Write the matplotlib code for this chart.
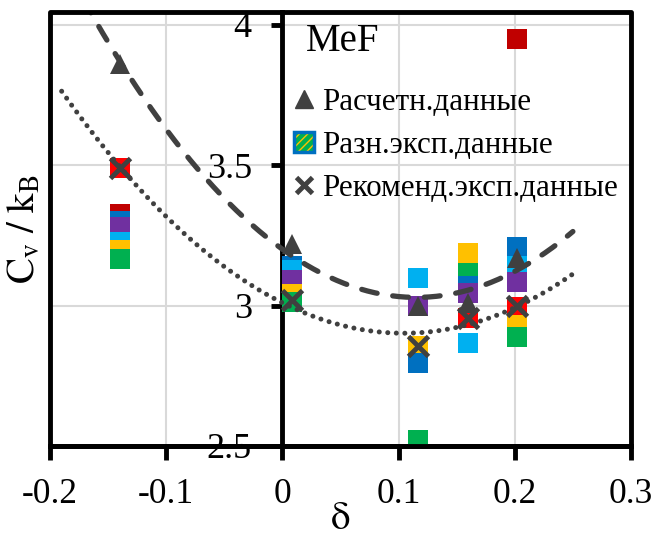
import numpy as np
import matplotlib
matplotlib.use('Agg')
from matplotlib import pyplot as plt
from matplotlib.patches import Patch, Rectangle
from matplotlib.lines import Line2D
from matplotlib.legend_handler import HandlerTuple

FONT = 'Liberation Serif'
plt.rcParams['font.family'] = 'serif'
plt.rcParams['font.serif'] = [FONT, 'DejaVu Serif']
plt.rcParams['mathtext.fontset'] = 'stix'

#%%# data #%%#
delta = [-0.14, 0.008, 0.117, 0.16, 0.202]

# calculated values (triangles) and recommended experimental values (crosses)
calc = [3.86, 3.22, 3.00, 3.01, 3.17]
recom = [3.49, 3.02, 2.855, 2.957, 3.00]

# different experimental sources, one list per source (None = no value)
expDarkRed = [3.327, None, None, None, 3.948]
expRed = [3.49, None, None, 2.955, 2.995]
expBlue = [3.302, 3.14, 2.795, 3.07, 3.209]
expPurple = [3.28, 3.09, 3.00, 3.045, 3.084]
expLightBlue = [3.227, 3.127, 3.098, 2.866, 3.14]
expYellow = [3.198, 3.04, 2.855, 3.1875, 2.93]
expGreen = [3.166, 3.012, 2.52, 3.116, 2.888]

expSeries = [(expDarkRed, '#C00000'), (expRed, '#FF0000'), (expBlue, '#0070C0'),
             (expPurple, '#7030A0'), (expLightBlue, '#00B0F0'),
             (expYellow, '#FFC000'), (expGreen, '#00B050')]

xTicks = [-0.2, -0.1, 0, 0.1, 0.2, 0.3]
xTickLabels = ['-0.2', '-0.1', '0', '0.1', '0.2', '0.3']
yTicks = [2.5, 3, 3.5, 4]
yTickLabels = ['2.5', '3', '3.5', '4']

#%%# figure #%%#
fig = plt.figure(figsize=(6.54, 5.37), dpi=100)
ax = fig.add_axes([0.0765, 0.1695, 0.9648 - 0.0765, 0.9777 - 0.1695])
ax.set_xlim(-0.2, 0.3)
ax.set_ylim(2.5, 4.046)

# grid
for xv in xTicks:
    ax.axvline(xv, color='#D9D9D9', lw=1.5, zorder=0)
for yv in yTicks[1:]:
    ax.axhline(yv, color='#D9D9D9', lw=1.5, zorder=0)

# experimental squares, lower ones drawn on top
for vals, col in expSeries:
    for xv, yv in zip(delta, vals):
        if yv is None: continue
        ax.plot(xv, yv, 's', ms=13.7, mfc=col, mec=col, mew=0, zorder=3 + (4.5 - yv))

# trendlines (2nd order polynomial fits)
xFit = np.linspace(-0.19, 0.25, 200)
pCalc = np.polyfit(delta, calc, 2)
pRecom = np.polyfit(delta, recom, 2)
ax.plot(xFit, np.polyval(pCalc, xFit), color='#404040', lw=3.8,
        dashes=(3, 3), dash_capstyle='round', zorder=8)
ax.plot(xFit, np.polyval(pRecom, xFit), color='#404040', lw=3.6,
        dashes=(0.01, 1.7), dash_capstyle='round', zorder=8)

ax.plot(delta, calc, '^', ms=15, color='#404040', mew=0, ls='none', zorder=9)
ax.plot(delta, recom, 'x', ms=14, color='#404040', mew=3.5, ls='none', zorder=9)

# axes
for s in ['top', 'right']:
    ax.spines[s].set_visible(False)
ax.spines['left'].set_position(('data', 0))
ax.spines['left'].set_linewidth(3.5)
ax.spines['bottom'].set_linewidth(3.5)
ax.add_patch(Rectangle((0, 0), 1, 1, transform=ax.transAxes, fill=False,
                       lw=3.5, ec='k', clip_on=False, zorder=10, joinstyle='round'))
ax.set_xticks(xTicks)
ax.set_xticklabels(xTickLabels, fontfamily=FONT, fontsize=25.5)
ax.set_yticks(yTicks)
ax.set_yticklabels(yTickLabels, fontfamily=FONT, fontsize=26)
ax.tick_params(axis='x', direction='out', length=10, width=3.5, pad=13)
ax.tick_params(axis='y', direction='out', length=8, width=3.5, pad=14)
ax.set_xlabel(r'$\mathrm{\delta}$', fontsize=28, labelpad=-7.5)
ax.set_ylabel(r'$\mathrm{C_v\ /\ k_B}$', fontsize=28)
ax.yaxis.set_label_coords(-0.012, 0.5)

ax.text(0.02, 3.94, 'MeF', fontfamily=FONT, fontsize=28, va='center', ha='left', zorder=11)

hTri = Line2D([], [], marker='^', ms=13, color='#404040', ls='none')
hSq = (Patch(facecolor='#00B050', edgecolor='#FFC000', hatch='////', lw=0),
       Patch(facecolor='none', edgecolor='#0070C0', lw=2.5))
hX = Line2D([], [], marker='x', ms=12, color='#404040', mew=3.5, ls='none')
ax.legend([hTri, hSq, hX], ['Расчетн.данные', 'Разн.эксп.данные', 'Рекоменд.эксп.данные'],
          handler_map={tuple: HandlerTuple(ndivide=1, pad=0)},
          loc='upper left', bbox_to_anchor=(0.42, 0.825), frameon=False,
          prop={'family': FONT, 'size': 22.3}, handlelength=0.65, handleheight=0.65,
          handletextpad=0.25, labelspacing=0.45, borderaxespad=0, borderpad=0)

fig.savefig('out.png', dpi=100)
